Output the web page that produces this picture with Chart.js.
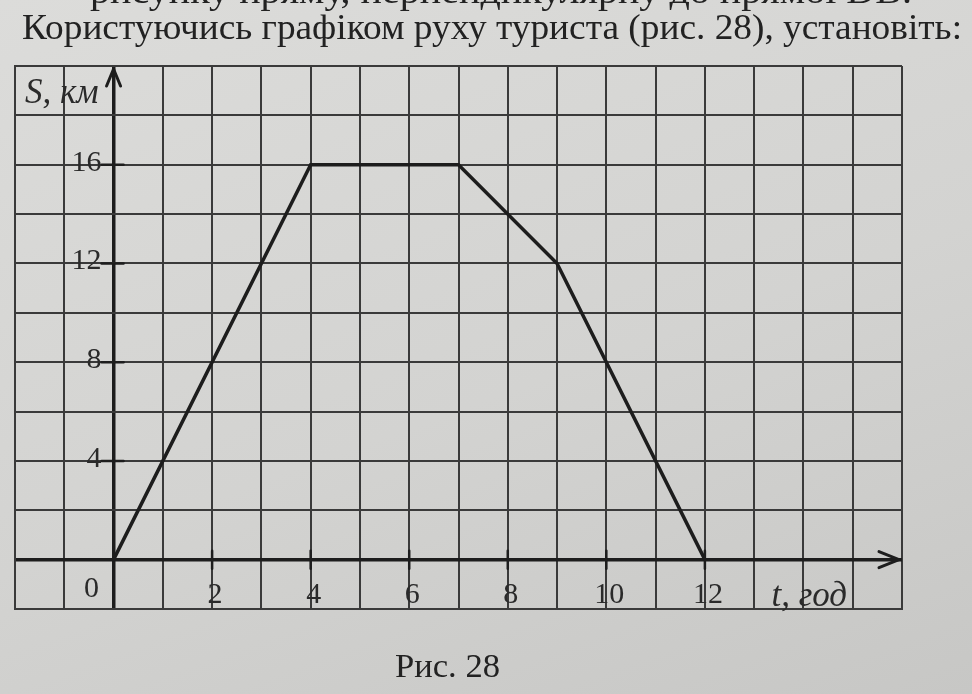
<!DOCTYPE html>
<html lang="uk">
<head>
<meta charset="utf-8">
<script src="https://cdn.jsdelivr.net/npm/chart.js@4/dist/chart.umd.min.js"></script>
<style>
  html, body { margin: 0; padding: 0; }
  body {
    width: 972px; height: 694px; overflow: hidden;
    background: linear-gradient(160deg, #dcdcda 0%, #d3d3d1 55%, #c7c7c5 100%);
  }
  canvas { display: block; }
  .preload { position: absolute; left: -999px; top: 0; font-family: "Liberation Serif"; }
</style>
</head>
<body>
<span class="preload">Рис. 28 <i>S, км</i></span>
<canvas id="chart" width="972" height="694"></canvas>
<script>
// ── Data ──────────────────────────────────────────────────────────────────
const timeHours   = [0, 4, 7, 9, 12];
const distanceKm  = [0, 16, 16, 12, 0];
const xTickLabels = [2, 4, 6, 8, 10, 12];
const yTickLabels = [4, 8, 12, 16];

const headText    = 'Користуючись графіком руху туриста (рис. 28), установіть:';
const cutText     = 'рисунку пряму, перпендикулярну до прямої DB.';
const captionText = 'Рис. 28';
const yAxisName   = 'S, км';
const xAxisName   = 't, год';

const INK  = '#1d1d1d';
const GRID = '#3a3a3a';
const TEXT = '#2a2a2a';
const SERIF = '"Liberation Serif", "Times New Roman", Tinos, serif';

// ── Drawing helpers ───────────────────────────────────────────────────────
function fitText(ctx, text, left, right, baseline, font) {
  ctx.save();
  ctx.font = font;
  const w = ctx.measureText(text).width;
  const k = (right - left) / w;
  ctx.translate(left, baseline);
  ctx.scale(k, 1);
  ctx.textAlign = 'left';
  ctx.textBaseline = 'alphabetic';
  ctx.fillText(text, 0, 0);
  ctx.restore();
}

const paperPlugin = {
  id: 'paper',
  afterDatasetsDraw(chart) {
    const { ctx, scales: { x, y }, chartArea: a } = chart;
    const x0 = x.getPixelForValue(0);
    const y0 = y.getPixelForValue(0);

    ctx.save();
    ctx.strokeStyle = INK;
    ctx.fillStyle = INK;
    ctx.lineWidth = 3;
    ctx.lineCap = 'round';
    ctx.lineJoin = 'round';

    // arrow heads
    const yTop = a.top + 3;
    ctx.beginPath();
    ctx.moveTo(x0 - 7, yTop + 17); ctx.lineTo(x0, yTop); ctx.lineTo(x0 + 7, yTop + 17);
    ctx.stroke();
    const xEnd = a.right - 3;
    ctx.beginPath();
    ctx.moveTo(xEnd - 20, y0 - 8); ctx.lineTo(xEnd, y0); ctx.lineTo(xEnd - 20, y0 + 8);
    ctx.stroke();

    // small tick marks on the axes
    ctx.lineWidth = 2.5;
    yTickLabels.forEach(v => {
      const py = y.getPixelForValue(v);
      ctx.beginPath(); ctx.moveTo(x0 - 12, py); ctx.lineTo(x0 + 10, py); ctx.stroke();
    });
    xTickLabels.forEach(v => {
      const px = x.getPixelForValue(v);
      ctx.beginPath(); ctx.moveTo(px, y0 - 9); ctx.lineTo(px, y0 + 9); ctx.stroke();
    });

    // tick labels
    ctx.fillStyle = TEXT;
    ctx.font = '30px ' + SERIF;
    ctx.textAlign = 'right';
    ctx.textBaseline = 'middle';
    yTickLabels.forEach(v => ctx.fillText(String(v), x0 - 12, y.getPixelForValue(v) - 2));
    ctx.textAlign = 'center';
    ctx.textBaseline = 'alphabetic';
    xTickLabels.forEach(v => ctx.fillText(String(v), x.getPixelForValue(v) + 3, y0 + 43));
    ctx.fillText('0', x0 - 22, y0 + 37);

    // axis names
    ctx.font = 'italic 35px ' + SERIF;
    ctx.textAlign = 'left';
    ctx.fillText(yAxisName, a.left + 10, y.getPixelForValue(18) - 12);
    ctx.fillText(xAxisName, x.getPixelForValue(13.35), y0 + 46);

    // page text around the figure
    ctx.fillStyle = '#222';
    fitText(ctx, cutText, 90, 912, 3, '36px ' + SERIF);
    fitText(ctx, headText, 22, 962, 39, '36px ' + SERIF);
    fitText(ctx, captionText, 395, 500, 677, '33px ' + SERIF);
    ctx.restore();
  }
};

// ── Chart ─────────────────────────────────────────────────────────────────
function build() {
  new Chart(document.getElementById('chart').getContext('2d'), {
    type: 'scatter',
    data: {
      datasets: [{
        data: timeHours.map((t, i) => ({ x: t, y: distanceKm[i] })),
        showLine: true,
        borderColor: INK,
        borderWidth: 3.5,
        pointRadius: 0,
        tension: 0,
        fill: false,
      }]
    },
    options: {
      responsive: false,
      devicePixelRatio: 1,
      animation: false,
      layout: { padding: { left: 15, right: 70, top: 66, bottom: 85 } },
      plugins: { legend: { display: false }, tooltip: { enabled: false } },
      scales: {
        x: {
          type: 'linear',
          min: -2, max: 16,
          ticks: { display: false, stepSize: 1 },
          grid: {
            color: c => (c.tick && c.tick.value === 0 ? INK : GRID),
            lineWidth: c => (c.tick && c.tick.value === 0 ? 3.5 : 2),
            drawTicks: false,
          },
          border: { display: true, color: GRID, width: 2 },
        },
        y: {
          type: 'linear',
          min: -2, max: 20,
          ticks: { display: false, stepSize: 2 },
          grid: {
            color: c => (c.tick && c.tick.value === 0 ? INK : GRID),
            lineWidth: c => (c.tick && c.tick.value === 0 ? 3.5 : 2),
            drawTicks: false,
          },
          border: { display: true, color: GRID, width: 2 },
        }
      }
    },
    plugins: [paperPlugin]
  });
}

Promise.all([
  document.fonts.load('30px "Liberation Serif"', 'Рис0123'),
  document.fonts.load('italic 35px "Liberation Serif"', 'км год')
]).catch(() => {}).then(build);
</script>
</body>
</html>
